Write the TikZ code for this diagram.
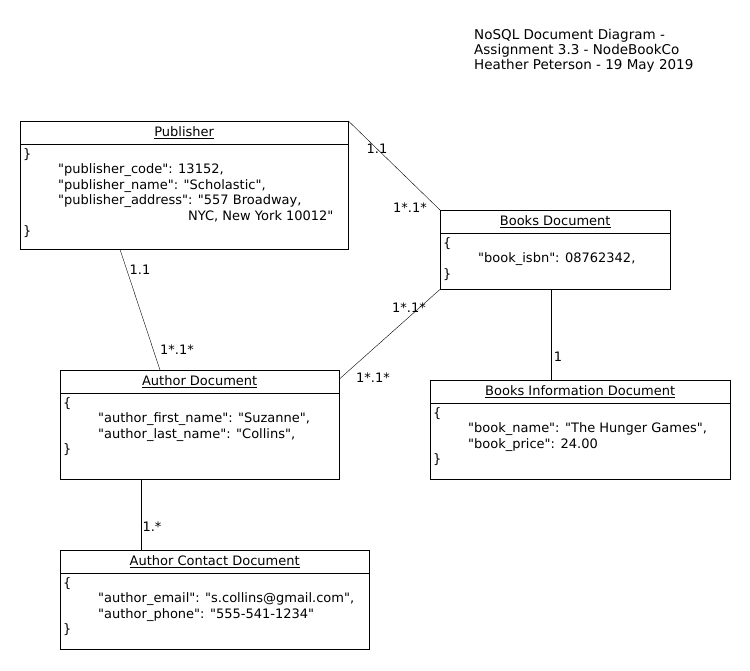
\documentclass[tikz,border=0pt]{standalone}
\usepackage{fontspec}
\setmainfont{DejaVu Sans}[Ligatures=TeXOff]
\tikzset{
  doc/.style={draw, anchor=north west, inner sep=0pt},
  doctitle/.style={inner sep=0pt, font=\fontsize{13}{15}\selectfont},
  docbody/.style={anchor=north west, inner sep=0pt, align=left, font=\fontsize{13}{15.5}\selectfont},
  mult/.style={inner sep=0pt, font=\fontsize{13}{15}\selectfont},
}
\begin{document}
\begin{tikzpicture}[x=1pt, y=-1pt]
  \useasboundingbox (0,0) rectangle (750,670);
  % heading
  \node[anchor=north west, inner sep=0pt, align=left, font=\fontsize{13.5}{15}\selectfont] (heading) at (474,29)
    {NoSQL Document Diagram -\\Assignment 3.3 - NodeBookCo\\Heather Peterson - 19 May 2019};
  % documents
  \node[doc, minimum width=328pt, minimum height=128pt] (pub) at (20,121) {};
  \node[doc, minimum width=230pt, minimum height=79pt] (booksdoc) at (440,210) {};
  \node[doc, minimum width=279pt, minimum height=109pt] (authdoc) at (60,370) {};
  \node[doc, minimum width=300pt, minimum height=99pt] (bookinfo) at (430,380) {};
  \node[doc, minimum width=309pt, minimum height=99pt] (authcontact) at (60,550) {};
  \foreach \n in {pub,booksdoc,authdoc,bookinfo,authcontact}
    \draw ([yshift=-23pt]\n.north west) -- ([yshift=-23pt]\n.north east);
  \node[doctitle] (pubtitle) at ([yshift=-11.5pt]pub.north) {\underline{Publisher}};
  \node[doctitle] (booksdoctitle) at ([yshift=-11.5pt]booksdoc.north) {\underline{Books Document}};
  \node[doctitle] (authdoctitle) at ([yshift=-11.5pt]authdoc.north) {\underline{Author Document}};
  \node[doctitle] (bookinfotitle) at ([yshift=-11.5pt]bookinfo.north) {\underline{Books Information Document}};
  \node[doctitle] (authcontacttitle) at ([yshift=-11.5pt]authcontact.north) {\underline{Author Contact Document}};
  \node[docbody] (pubbody) at ([xshift=3pt, yshift=-27pt]pub.north west)
    {\}\\
     \hspace*{35pt}"publisher\_code": 13152,\\
     \hspace*{35pt}"publisher\_name": "Scholastic",\\
     \hspace*{35pt}"publisher\_address": "557 Broadway,\\
     \hspace*{165pt}NYC, New York 10012"\\
     \}};
  \node[docbody] (booksdocbody) at ([xshift=3pt, yshift=-27pt]booksdoc.north west)
    {\{\\
     \hspace*{35pt}"book\_isbn": 08762342,\\
     \}};
  \node[docbody] (authdocbody) at ([xshift=3pt, yshift=-27pt]authdoc.north west)
    {\{\\
     \hspace*{35pt}"author\_first\_name": "Suzanne",\\
     \hspace*{35pt}"author\_last\_name": "Collins",\\
     \}};
  \node[docbody] (bookinfobody) at ([xshift=3pt, yshift=-27pt]bookinfo.north west)
    {\{\\
     \hspace*{35pt}"book\_name": "The Hunger Games",\\
     \hspace*{35pt}"book\_price": 24.00\\
     \}};
  \node[docbody] (authcontactbody) at ([xshift=3pt, yshift=-27pt]authcontact.north west)
    {\{\\
     \hspace*{35pt}"author\_email": "s.collins@gmail.com",\\
     \hspace*{35pt}"author\_phone": "555-541-1234"\\
     \}};
  % connectors
  \draw (pub.north east) -- (booksdoc.north west);
  \draw ([xshift=100pt]pub.south west) -- ([xshift=100pt]authdoc.north west);
  \draw (booksdoc.south west) -- ([yshift=-9pt]authdoc.north east);
  \draw ([xshift=-4pt]booksdoc.south) -- ([xshift=-4pt]booksdoc.south |- bookinfo.north);
  \draw ([xshift=81pt]authdoc.south west) -- ([xshift=81pt]authdoc.south west |- authcontact.north);
  % multiplicities
  \node[mult] (m1) at (377,149) {1.1};
  \node[mult] (m2) at (410,208) {1*.1*};
  \node[mult] (m3) at (140,270) {1.1};
  \node[mult] (m4) at (177,350) {1*.1*};
  \node[mult] (m5) at (409,308) {1*.1*};
  \node[mult] (m6) at (373,378) {1*.1*};
  \node[mult] (m7) at (558,357) {1};
  \node[mult] (m8) at (152,527) {1.*};
\end{tikzpicture}
\end{document}
